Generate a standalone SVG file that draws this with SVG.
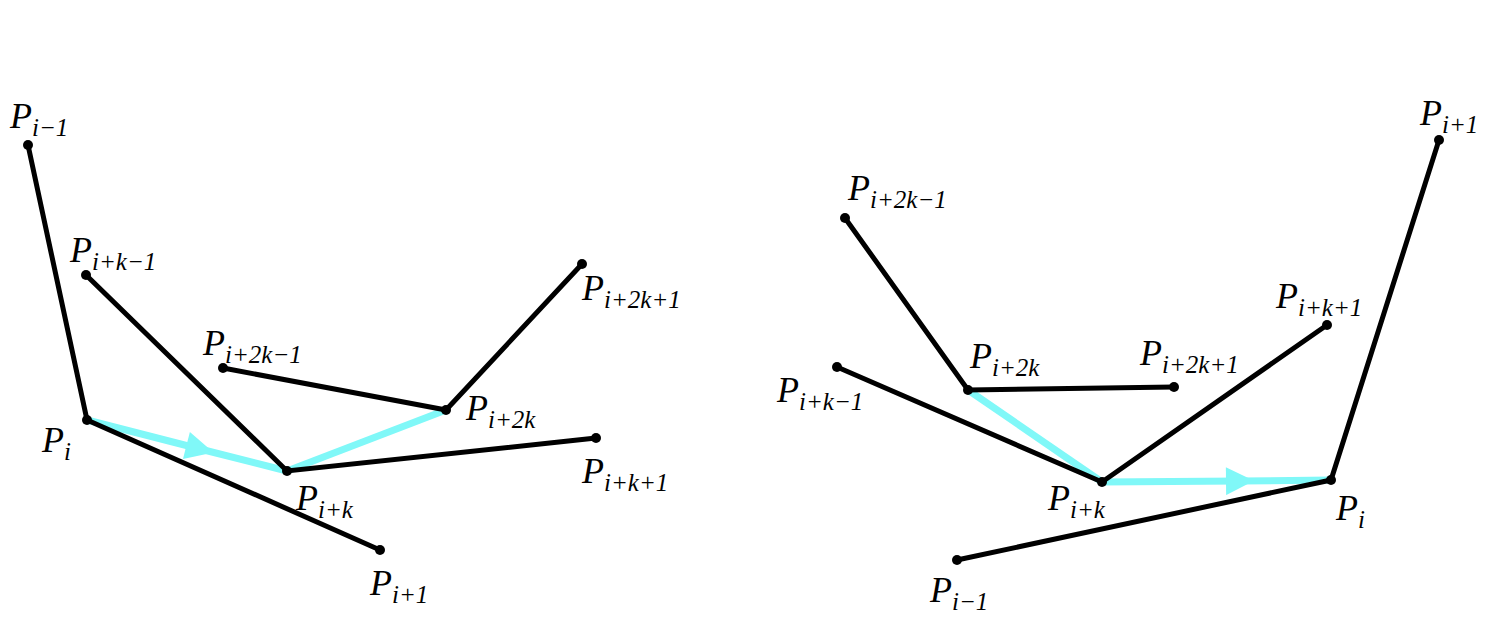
<svg xmlns="http://www.w3.org/2000/svg" width="1512" height="623" viewBox="0 0 1512 623">
<style>
.k{stroke:#000;stroke-width:5;fill:none;stroke-linecap:round}
.c{stroke:#80f8f8;stroke-width:7;fill:none}
.d{fill:#000}
text{font-family:"Liberation Serif",serif;font-style:italic;font-size:36px;fill:#000}
.s{font-size:25px}
</style>
<defs>
<marker id="ar" viewBox="0 0 10 10" refX="5" refY="5" markerWidth="6" markerHeight="4" markerUnits="strokeWidth" orient="auto">
<path d="M0,0L10,5L0,10z" fill="#80f8f8"/>
</marker>
</defs>
<g id="connectors">
<path class="c" d="M87,420L200,449L287,471" marker-mid="url(#ar)"/>
<path class="c" d="M287,471L446,410"/>
<path class="c" d="M968,390L1102,482"/>
<path class="c" d="M1102,482L1240,481L1331,480" marker-mid="url(#ar)"/>
<path class="k" d="M28,145L87,420L380,550"/>
<path class="k" d="M86,275L287,471L596,438"/>
<path class="k" d="M223,368L446,410L582,264"/>
<path class="k" d="M1439,140L1331,480L957,560"/>
<path class="k" d="M845,218L968,390L1174,387"/>
<path class="k" d="M837,367L1102,482L1327,325"/>
</g>
<g id="n1"><circle class="d" cx="28" cy="145" r="5"/><text x="10" y="128">P<tspan class="s" dy="8">i−1</tspan></text></g>
<g id="n2"><circle class="d" cx="87" cy="420" r="5"/><text x="42" y="452">P<tspan class="s" dy="8">i</tspan></text></g>
<g id="n3"><circle class="d" cx="86" cy="275" r="5"/><text x="70" y="262">P<tspan class="s" dy="8">i+k−1</tspan></text></g>
<g id="n4"><circle class="d" cx="287" cy="471" r="5"/><text x="296" y="510">P<tspan class="s" dy="8">i+k</tspan></text></g>
<g id="n5"><circle class="d" cx="380" cy="550" r="5"/><text x="370" y="595">P<tspan class="s" dy="8">i+1</tspan></text></g>
<g id="n6"><circle class="d" cx="223" cy="368" r="5"/><text x="203" y="355">P<tspan class="s" dy="8">i+2k−1</tspan></text></g>
<g id="n7"><circle class="d" cx="446" cy="410" r="5"/><text x="466" y="420">P<tspan class="s" dy="8">i+2k</tspan></text></g>
<g id="n8"><circle class="d" cx="582" cy="264" r="5"/><text x="582" y="300">P<tspan class="s" dy="8">i+2k+1</tspan></text></g>
<g id="n9"><circle class="d" cx="596" cy="438" r="5"/><text x="582" y="483">P<tspan class="s" dy="8">i+k+1</tspan></text></g>
<g id="m1"><circle class="d" cx="1439" cy="140" r="5"/><text x="1420" y="125">P<tspan class="s" dy="8">i+1</tspan></text></g>
<g id="m2"><circle class="d" cx="1331" cy="480" r="5"/><text x="1336" y="520">P<tspan class="s" dy="8">i</tspan></text></g>
<g id="m3"><circle class="d" cx="957" cy="560" r="5"/><text x="930" y="602">P<tspan class="s" dy="8">i−1</tspan></text></g>
<g id="m4"><circle class="d" cx="845" cy="218" r="5"/><text x="848" y="200">P<tspan class="s" dy="8">i+2k−1</tspan></text></g>
<g id="m5"><circle class="d" cx="968" cy="390" r="5"/><text x="970" y="368">P<tspan class="s" dy="8">i+2k</tspan></text></g>
<g id="m6"><circle class="d" cx="1174" cy="387" r="5"/><text x="1140" y="365">P<tspan class="s" dy="8">i+2k+1</tspan></text></g>
<g id="m7"><circle class="d" cx="837" cy="367" r="5"/><text x="777" y="402">P<tspan class="s" dy="8">i+k−1</tspan></text></g>
<g id="m8"><circle class="d" cx="1102" cy="482" r="5"/><text x="1048" y="510">P<tspan class="s" dy="8">i+k</tspan></text></g>
<g id="m9"><circle class="d" cx="1327" cy="325" r="5"/><text x="1276" y="308">P<tspan class="s" dy="8">i+k+1</tspan></text></g>
</svg>
